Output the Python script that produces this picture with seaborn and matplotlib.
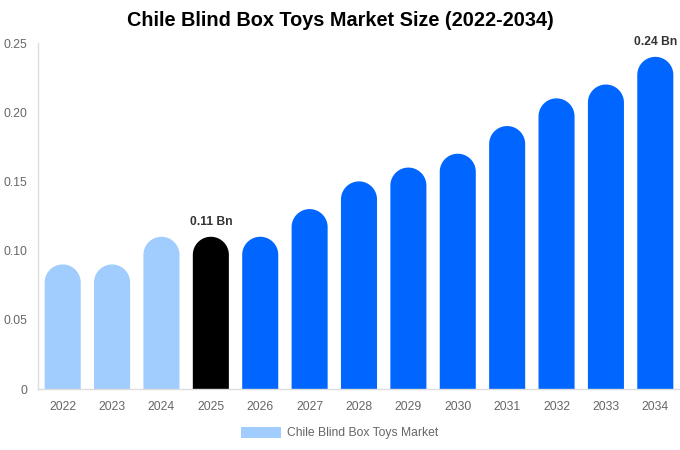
import seaborn as sns
import matplotlib.pyplot as plt
import numpy as np
import pandas as pd
from matplotlib.path import Path
from matplotlib.patches import PathPatch, Patch

years = ['2022', '2023', '2024', '2025', '2026', '2027', '2028',
         '2029', '2030', '2031', '2032', '2033', '2034']
market_size = [0.09, 0.09, 0.11, 0.11, 0.11, 0.13, 0.15,
               0.16, 0.17, 0.19, 0.21, 0.22, 0.24]
bar_colors = ['#A0CDFD', '#A0CDFD', '#A0CDFD', '#000000', '#0066FF', '#0066FF', '#0066FF',
              '#0066FF', '#0066FF', '#0066FF', '#0066FF', '#0066FF', '#0066FF']
labelled = {'2025': '0.11 Bn', '2034': '0.24 Bn'}

sns.set_style('white')
plt.rcParams['font.family'] = ['Liberation Sans', 'DejaVu Sans']

df = pd.DataFrame({'year': years, 'size': market_size})

fig = plt.figure(figsize=(6.8, 4.5), dpi=100)
ax = fig.add_axes([38 / 680, 61 / 450, 642 / 680, 346 / 450])

bar_w = 0.73
sns.barplot(data=df, x='year', y='size', hue='year', palette=bar_colors,
            saturation=1, width=bar_w, legend=False, ax=ax)
ax.set_xlim(-0.5, 12.5)
ax.set_ylim(0, 0.25)

# rounded tops: replace each seaborn bar with a path ending in a half-ellipse
px_per_x = 642 / 13
px_per_y = 346 / 0.25
rx = bar_w / 2
ry = rx * px_per_x / px_per_y
theta = np.linspace(0, np.pi, 40)
for p in list(ax.patches):
    x0 = p.get_x()
    h = p.get_height()
    c = p.get_facecolor()
    p.set_visible(False)
    cx = x0 + rx
    top = h - ry
    arc = np.column_stack([cx + rx * np.cos(theta), top + ry * np.sin(theta)])
    verts = np.vstack([[x0 + bar_w, 0], arc, [x0, 0], [x0 + bar_w, 0]])
    codes = [Path.MOVETO] + [Path.LINETO] * (len(verts) - 2) + [Path.CLOSEPOLY]
    ax.add_patch(PathPatch(Path(verts, codes), facecolor=c, edgecolor='none'))

for i, y in enumerate(years):
    if y in labelled:
        ax.text(i, market_size[i] + 0.0065, labelled[y], ha='center', va='bottom',
                fontsize=8.7, fontweight='bold', color='#333333')

ax.set_yticks([0, 0.05, 0.10, 0.15, 0.20, 0.25])
ax.set_yticklabels(['0', '0.05', '0.10', '0.15', '0.20', '0.25'])
ax.tick_params(axis='both', length=0, labelsize=8.7, colors='#666666')
ax.tick_params(axis='y', pad=7.5)
ax.tick_params(axis='x', pad=9)
ax.set_xlabel('')
ax.set_ylabel('')
for s in ['top', 'right']:
    ax.spines[s].set_visible(False)
for s in ['left', 'bottom']:
    ax.spines[s].set_color('#dddddd')
    ax.spines[s].set_linewidth(1)

fig.text(0.5, 1 - 21 / 450, 'Chile Blind Box Toys Market Size (2022-2034)',
         ha='center', va='center', fontsize=14.3, fontweight='bold', color='#000000')

handle = Patch(facecolor='#A0CDFD', edgecolor='none')
fig.legend([handle], ['Chile Blind Box Toys Market'], loc='center',
           bbox_to_anchor=(0.5, 1 - 433 / 450), frameon=False, fontsize=8.7,
           handlelength=3.3, handleheight=1.0, handletextpad=0.5,
           labelcolor='#666666')

fig.savefig('out.png', dpi=100)
